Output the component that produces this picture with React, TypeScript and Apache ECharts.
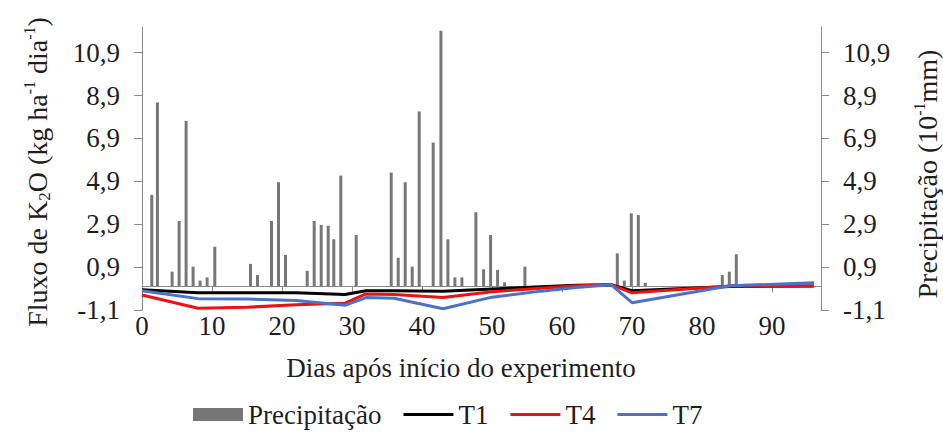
import React, { useEffect, useRef } from 'react';
import * as echarts from 'echarts';

// Precipitation bars: position (days) and height
const precipDay = [1.4, 2.2, 4.3, 5.3, 6.3, 7.3, 8.3, 9.3, 10.4, 15.5, 16.5, 18.5, 19.5, 20.5, 23.6, 24.6, 25.6, 26.6, 27.4, 28.4, 30.6, 35.6, 36.6, 37.6, 38.6, 39.6, 41.6, 42.7, 43.7, 44.7, 45.7, 47.7, 48.8, 49.8, 50.8, 51.8, 54.7, 67.9, 68.9, 69.9, 70.9, 71.9, 82.9, 83.9, 84.9];
const precipValue = [4.27, 8.58, 0.69, 3.05, 7.72, 0.92, 0.27, 0.42, 1.85, 1.05, 0.53, 3.05, 4.86, 1.47, 0.73, 3.05, 2.87, 2.83, 2.2, 5.17, 2.4, 5.31, 1.34, 4.86, 0.92, 8.16, 6.71, 11.92, 2.2, 0.42, 0.42, 3.46, 0.8, 2.4, 0.77, 0.19, 0.92, 1.54, 0.27, 3.41, 3.33, 0.17, 0.53, 0.69, 1.5];

// K2O flux series
const sampleDays = [0, 8, 15, 22, 29, 32, 36, 43, 50, 57, 62, 67, 70, 84, 96];
const t1 = [-0.15, -0.3, -0.3, -0.3, -0.38, -0.2, -0.2, -0.22, -0.12, -0.02, 0.05, 0.08, -0.2, 0.0, 0.02];
const t4 = [-0.4, -1.02, -0.97, -0.86, -0.78, -0.35, -0.38, -0.52, -0.25, -0.08, 0.03, 0.08, -0.3, 0.02, 0.02];
const t7 = [-0.2, -0.57, -0.59, -0.66, -0.88, -0.52, -0.55, -1.04, -0.5, -0.22, -0.05, 0.08, -0.76, 0.03, 0.17];

const yTicks = [-1.1, 0.9, 2.9, 4.9, 6.9, 8.9, 10.9];
const xTicks = [0, 10, 20, 30, 40, 50, 60, 70, 80, 90];

const FONT = '"Liberation Serif", "DejaVu Serif", serif';
const TXT = '#1e1e1e';
const AX = '#8a8a8a';
const LINE_ICON = 'path://M0,0 L50,0 L50,3 L0,3 Z';

const fmt = (v: number) => v.toFixed(1).replace('.', ',');

export default function App() {
  const ref = useRef<HTMLDivElement>(null);
  useEffect(() => {
    document.body.style.margin = '0';
    if (!ref.current) return;
    const chart = echarts.init(ref.current, null, { renderer: 'svg' });
    const yAxisCommon = {
      type: 'value' as const,
      min: -1.1,
      max: 12.1,
      splitLine: { show: false },
      axisLine: { show: true, lineStyle: { color: AX, width: 1 } },
      axisTick: { show: true, length: 8, lineStyle: { color: AX }, customValues: yTicks },
      axisLabel: {
        customValues: yTicks,
        formatter: (v: number) => fmt(v),
        fontFamily: FONT,
        fontSize: 27,
        color: TXT,
        margin: 22,
      },
    };
    chart.setOption({
      animation: false,
      grid: { left: 142, right: 122, top: 27, bottom: 126 },
      xAxis: {
        type: 'value',
        min: 0,
        max: 97,
        splitLine: { show: false },
        axisLine: { show: true, onZero: true, lineStyle: { color: AX, width: 1 } },
        axisTick: { show: true, length: 6, lineStyle: { color: AX }, customValues: xTicks },
        axisLabel: {
          customValues: xTicks,
          fontFamily: FONT,
          fontSize: 27,
          color: TXT,
          margin: 2,
        },
      },
      yAxis: [
        { ...yAxisCommon, position: 'left' },
        { ...yAxisCommon, position: 'right' },
      ],
      legend: {
        left: 188,
        top: 396,
        itemWidth: 50,
        itemHeight: 13,
        itemGap: 22,
        symbolKeepAspect: true,
        textStyle: { fontFamily: FONT, fontSize: 27, color: TXT },
        data: [
          { name: 'Precipitação', icon: 'rect' },
          { name: 'T1', icon: LINE_ICON },
          { name: 'T4', icon: LINE_ICON },
          { name: 'T7', icon: LINE_ICON },
        ],
      },
      graphic: [
        {
          type: 'text',
          x: 37,
          y: 172,
          rotation: Math.PI / 2,
          style: {
            text: 'Fluxo de K{sub|2}O (kg ha{sup|-1} dia{sup|-1})',
            fontFamily: FONT,
            fontSize: 28,
            fill: TXT,
            align: 'center',
            verticalAlign: 'middle',
            rich: {
              sub: { fontFamily: FONT, fontSize: 17, fill: TXT, verticalAlign: 'bottom', lineHeight: 32 },
              sup: { fontFamily: FONT, fontSize: 16, fill: TXT, verticalAlign: 'top', lineHeight: 32 },
            },
          },
        },
        {
          type: 'text',
          x: 927,
          y: 174,
          rotation: Math.PI / 2,
          style: {
            text: 'Precipitação (10{sup|-1}mm)',
            fontFamily: FONT,
            fontSize: 28,
            fill: TXT,
            align: 'center',
            verticalAlign: 'middle',
            rich: {
              sup: { fontFamily: FONT, fontSize: 16, fill: TXT, verticalAlign: 'top', lineHeight: 32 },
            },
          },
        },
        {
          type: 'text',
          x: 461,
          y: 368,
          style: {
            text: 'Dias após início do experimento',
            fontFamily: FONT,
            fontSize: 27,
            fill: TXT,
            align: 'center',
            verticalAlign: 'middle',
          },
        },
      ],
      series: [
        {
          name: 'Precipitação',
          type: 'bar',
          yAxisIndex: 1,
          barWidth: 3,
          itemStyle: { color: '#777777' },
          data: precipDay.map((d, i) => [d, precipValue[i]]),
        },
        {
          name: 'T1',
          type: 'line',
          symbol: 'none',
          lineStyle: { color: '#000000', width: 3 },
          itemStyle: { color: '#000000' },
          data: sampleDays.map((d, i) => [d, t1[i]]),
        },
        {
          name: 'T4',
          type: 'line',
          symbol: 'none',
          lineStyle: { color: '#ee1111', width: 3 },
          itemStyle: { color: '#ee1111' },
          data: sampleDays.map((d, i) => [d, t4[i]]),
        },
        {
          name: 'T7',
          type: 'line',
          symbol: 'none',
          lineStyle: { color: '#4a72c8', width: 3 },
          itemStyle: { color: '#4a72c8' },
          data: sampleDays.map((d, i) => [d, t7[i]]),
        },
      ],
    });
    return () => chart.dispose();
  }, []);
  return <div ref={ref} style={{ width: 943, height: 436 }} />;
}
